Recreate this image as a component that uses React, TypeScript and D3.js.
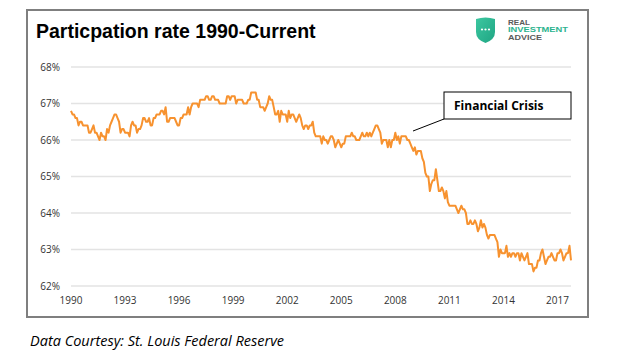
import React from "react";
import * as d3 from "d3";

const startYear = 1990;
const rates: number[] = [
  // 1990
  66.8, 66.7, 66.7, 66.6, 66.6, 66.4, 66.5, 66.5, 66.4, 66.4, 66.4, 66.4,
  // 1991
  66.2, 66.2, 66.3, 66.4, 66.2, 66.2, 66.1, 66.0, 66.2, 66.1, 66.1, 66.0,
  // 1992
  66.3, 66.2, 66.4, 66.5, 66.6, 66.7, 66.7, 66.6, 66.5, 66.2, 66.3, 66.3,
  // 1993
  66.2, 66.2, 66.2, 66.1, 66.4, 66.5, 66.4, 66.4, 66.2, 66.3, 66.3, 66.4,
  // 1994
  66.6, 66.6, 66.5, 66.5, 66.6, 66.4, 66.4, 66.6, 66.6, 66.7, 66.7, 66.7,
  // 1995
  66.8, 66.8, 66.7, 66.9, 66.5, 66.5, 66.6, 66.6, 66.6, 66.6, 66.5, 66.4,
  // 1996
  66.4, 66.6, 66.6, 66.7, 66.7, 66.7, 66.9, 66.7, 66.9, 67.0, 67.0, 67.0,
  // 1997
  67.0, 66.9, 67.1, 67.1, 67.1, 67.1, 67.2, 67.2, 67.1, 67.1, 67.2, 67.2,
  // 1998
  67.1, 67.1, 67.1, 67.0, 67.0, 67.0, 67.0, 67.0, 67.2, 67.2, 67.1, 67.2,
  // 1999
  67.2, 67.2, 67.0, 67.1, 67.1, 67.1, 67.1, 67.0, 67.0, 67.0, 67.1, 67.1,
  // 2000
  67.3, 67.3, 67.3, 67.3, 67.1, 67.1, 66.9, 66.9, 66.9, 66.8, 66.9, 67.0,
  // 2001
  67.2, 67.1, 67.1, 66.9, 66.7, 66.7, 66.8, 66.5, 66.8, 66.7, 66.7, 66.7,
  // 2002
  66.5, 66.8, 66.6, 66.7, 66.7, 66.6, 66.5, 66.6, 66.7, 66.6, 66.4, 66.3,
  // 2003
  66.4, 66.4, 66.3, 66.4, 66.4, 66.5, 66.2, 66.1, 66.1, 66.1, 66.1, 65.9,
  // 2004
  66.1, 66.0, 66.0, 65.9, 66.0, 66.1, 66.1, 66.0, 65.8, 65.9, 66.0, 65.9,
  // 2005
  65.8, 65.9, 65.9, 66.1, 66.1, 66.1, 66.1, 66.2, 66.1, 66.1, 66.0, 66.0,
  // 2006
  66.0, 66.1, 66.2, 66.1, 66.1, 66.2, 66.1, 66.2, 66.1, 66.2, 66.3, 66.4,
  // 2007
  66.4, 66.3, 66.2, 65.9, 66.0, 66.0, 66.0, 65.8, 66.0, 65.8, 66.0, 66.0,
  // 2008
  66.2, 66.0, 66.1, 65.9, 66.1, 66.1, 66.1, 66.1, 66.0, 66.0, 65.9, 65.8,
  // 2009
  65.7, 65.8, 65.6, 65.7, 65.7, 65.7, 65.5, 65.4, 65.1, 65.0, 65.0, 64.6,
  // 2010
  64.8, 64.9, 64.9, 65.2, 64.9, 64.6, 64.6, 64.7, 64.6, 64.4, 64.6, 64.3,
  // 2011
  64.2, 64.2, 64.2, 64.2, 64.2, 64.1, 64.0, 64.1, 64.2, 64.1, 64.1, 64.0,
  // 2012
  63.7, 63.7, 63.8, 63.7, 63.7, 63.8, 63.7, 63.5, 63.6, 63.8, 63.6, 63.7,
  // 2013
  63.6, 63.4, 63.3, 63.4, 63.4, 63.4, 63.4, 63.3, 63.2, 62.8, 63.0, 62.9,
  // 2014
  62.9, 62.9, 63.1, 62.8, 62.9, 62.8, 62.9, 62.9, 62.8, 62.9, 62.9, 62.7,
  // 2015
  62.9, 62.8, 62.7, 62.8, 62.9, 62.6, 62.6, 62.6, 62.4, 62.5, 62.5, 62.7,
  // 2016
  62.7, 62.9, 63.0, 62.8, 62.6, 62.7, 62.8, 62.8, 62.9, 62.8, 62.7, 62.7,
  // 2017
  62.9, 62.9, 63.0, 62.9, 62.7, 62.8, 62.9, 62.9, 63.1, 62.7,
];
const xTicks: number[] = [1990, 1993, 1996, 1999, 2002, 2005, 2008, 2011, 2014, 2017];
const yTicks: number[] = [62, 63, 64, 65, 66, 67, 68];
const title = "Particpation rate 1990-Current";
const annotation = "Financial Crisis";
const footer = "Data Courtesy: St. Louis Federal Reserve";
const logoLines = ["REAL", "INVESTMENT", "ADVICE"];

const W = 618;
const H = 356;

export default function App() {
  const points = rates.map((v, i) => ({ t: startYear + i / 12, v }));
  const x = d3
    .scaleLinear()
    .domain([startYear, startYear + (rates.length - 1) / 12])
    .range([71, 571]);
  const y = d3.scaleLinear().domain([62, 68]).range([286, 67]);
  const line = d3
    .line<{ t: number; v: number }>()
    .x((d) => x(d.t))
    .y((d) => y(d.v));
  const tickFont = "'Open Sans', 'Noto Sans', sans-serif";
  const logoWidths = [22, 60, 34];

  return (
    <svg
      width={W}
      height={H}
      style={{ position: "absolute", left: 0, top: 0, background: "#fff" }}
    >
      <defs>
        <linearGradient id="shieldGrad" x1="0" y1="0" x2="1" y2="1">
          <stop offset="0" stopColor="#3cc7a0" />
          <stop offset="1" stopColor="#1fa583" />
        </linearGradient>
      </defs>
      {/* frame */}
      <rect x={27} y={10} width={561} height={307} fill="none" stroke="#7f7f7f" strokeWidth={2} />
      {/* title */}
      <text
        x={36}
        y={38}
        fontFamily="'Liberation Sans', Arial, sans-serif"
        fontWeight="bold"
        fontSize={19.5}
        fill="#000"
      >
        {title}
      </text>
      {/* logo */}
      <g>
        <path
          d="M476,19 Q485.5,16 495,19 L495,32 Q495,39.5 485.5,43 Q476,39.5 476,32 Z"
          fill="url(#shieldGrad)"
        />
        {[-3.5, 0, 3.5].map((dx) => (
          <circle key={dx} cx={485.5 + dx} cy={29.5} r={1.1} fill="#fff" />
        ))}
        {logoLines.map((t, i) => (
          <text
            key={t}
            x={508}
            y={24.5 + i * 7.5}
            fontFamily="'Liberation Sans', Arial, sans-serif"
            fontWeight="bold"
            fontSize={6.8}
            textLength={logoWidths[i]}
            lengthAdjust="spacingAndGlyphs"
            fill={i === 1 ? "#2bb38e" : "#5a5a5a"}
          >
            {t}
          </text>
        ))}
      </g>
      {/* gridlines */}
      {yTicks.map((t) => (
        <line key={t} x1={71} x2={571} y1={y(t)} y2={y(t)} stroke="#e3e3e3" strokeWidth={1.5} />
      ))}
      {/* y labels */}
      {yTicks.map((t) => (
        <text
          key={t}
          x={60}
          y={y(t) + 3.5}
          textAnchor="end"
          fontFamily={tickFont}
          fontSize={10}
          fill="#333"
        >
          {t}%
        </text>
      ))}
      {/* x labels */}
      {xTicks.map((t) => (
        <text
          key={t}
          x={x(t)}
          y={304}
          textAnchor="middle"
          fontFamily={tickFont}
          fontSize={10}
          fill="#333"
        >
          {t}
        </text>
      ))}
      {/* data line */}
      <path d={line(points) || ""} fill="none" stroke="#f7922f" strokeWidth={2} strokeLinejoin="round" />
      {/* annotation */}
      <line x1={413} y1={131} x2={444} y2={119} stroke="#000" strokeWidth={1} />
      <rect x={444} y={92} width={127} height={27} fill="#fff" stroke="#000" strokeWidth={1} />
      <text
        x={454}
        y={110}
        fontFamily={tickFont}
        fontWeight="bold"
        fontSize={12}
        fill="#000"
      >
        {annotation}
      </text>
      {/* footer */}
      <text
        x={30}
        y={346}
        fontFamily={tickFont}
        fontStyle="italic"
        fontSize={14.5}
        fill="#000"
      >
        {footer}
      </text>
    </svg>
  );
}
